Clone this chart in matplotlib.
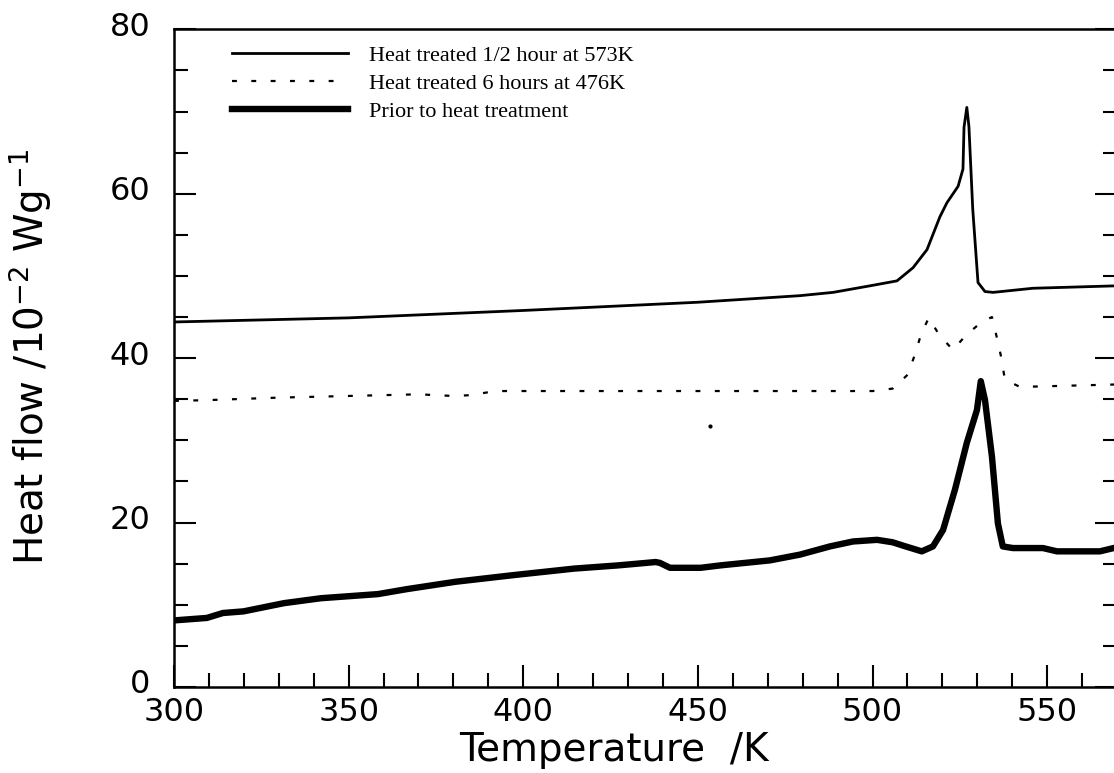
import numpy as np
import matplotlib.pyplot as plt
from matplotlib.ticker import MultipleLocator
from matplotlib.transforms import ScaledTranslation

# curve: Heat treated 1/2 hour at 573K
t_573 = [300, 350, 400, 450, 479.2, 488.7, 499.3, 507.0, 511.6, 515.6, 519.3,
         521.3, 524.5, 525.9, 526.2, 527.0, 527.6, 528.7, 530.2, 532.2, 534.5,
         545.9, 570]
q_573 = [44.4, 44.9, 45.8, 46.8, 47.6, 48.0, 48.8, 49.4, 51.0, 53.2, 57.2,
         58.9, 60.9, 63.0, 68.1, 70.5, 68.2, 58.1, 49.2, 48.1, 48.0,
         48.5, 48.8]

# Heat treated 6 hours at 476K
t_476 = [300, 310, 330, 350, 370, 380, 385, 392, 400, 450, 479.2, 500.1,
         505.8, 510.1, 512.1, 513.9, 516.1, 519.0, 523.0, 527.0, 531.3,
         534.2, 535.6, 536.8, 537.9, 542.2, 570]
q_476 = [34.8, 34.9, 35.2, 35.4, 35.6, 35.4, 35.5, 36.0, 36.0, 36.0, 36.0, 36.0,
         36.3, 38.0, 40.4, 42.9, 44.9, 42.9, 41.0, 42.9, 44.4,
         45.0, 42.5, 40.2, 37.4, 36.5, 36.8]

# Prior to heat treatment
t_prior = [300, 309.4, 314.0, 319.9, 331.5, 342.1, 358.4, 366.6, 380.6, 397.0,
           414.5, 427.4, 437.9, 439.1, 442.0, 450.8, 456.6, 470.6, 479.2,
           487.8, 494.4, 501.3, 505.8, 508.7, 514.1, 517.3, 520.2, 523.6,
           527.0, 529.9, 531.0, 532.2, 534.2, 535.9, 537.3, 540.2, 548.8,
           552.8, 565.1, 570]
q_prior = [8.1, 8.4, 9.0, 9.2, 10.2, 10.8, 11.3, 11.9, 12.8, 13.6,
           14.4, 14.8, 15.2, 15.1, 14.5, 14.5, 14.8, 15.4, 16.1,
           17.1, 17.7, 17.9, 17.6, 17.2, 16.5, 17.1, 19.1, 24.0,
           29.7, 33.7, 37.2, 34.9, 28.0, 19.9, 17.1, 16.9, 16.9,
           16.5, 16.5, 17.0]

# lone stray point below the dashed trace
stray_t = [453.4]
stray_q = [31.7]

labels = ['Heat treated 1/2 hour at 573K',
          'Heat treated 6 hours at 476K',
          'Prior to heat treatment']

fig = plt.figure(figsize=(11.14, 7.73), dpi=100)
ax = fig.add_axes([174/1114, 1 - 687/773, 943/1114, 657.7/773])

ax.plot(t_573, q_573, 'k-', lw=2.0, label=labels[0])
ax.plot(t_476, q_476, color='k', lw=1.6, dashes=(2.2, 6.5), label=labels[1])
ax.plot(t_prior, q_prior, 'k-', lw=4.6, solid_joinstyle='round', label=labels[2])
ax.plot(stray_t, stray_q, 'k.', ms=4)

ax.set_xlim(300, 570)
ax.set_ylim(0, 80)
ax.xaxis.set_major_locator(MultipleLocator(50))
ax.xaxis.set_minor_locator(MultipleLocator(10))
ax.set_yticks([0, 20, 40, 60, 80])
ax.yaxis.set_minor_locator(MultipleLocator(5))

for s in ax.spines.values():
    s.set_linewidth(1.8)

ax.tick_params(which='both', direction='in', top=False, right=True, width=1.5)
ax.tick_params(which='major', length=16)
ax.tick_params(which='minor', length=10)
ax.tick_params(axis='x', which='major', pad=7, labelsize=23)
ax.tick_params(axis='y', which='major', pad=17, labelsize=23)

# y numbers sit a little above their ticks in the original
up = ScaledTranslation(0, 4/72, fig.dpi_scale_trans)
for lbl in ax.get_yticklabels():
    lbl.set_transform(lbl.get_transform() + up)

ax.set_xlabel('Temperature  /K', fontsize=28)
ax.xaxis.set_label_coords((614 - 174) / 943, (687 - 731) / 657.7)
ax.set_ylabel('Heat flow /10$^{-2}$ Wg$^{-1}$', fontsize=28)
ax.yaxis.set_label_coords((54 - 174) / 943, 0.502)

leg = ax.legend(loc='upper left', bbox_to_anchor=(232/1114, 1 - 45/773),
                bbox_transform=fig.transFigure, frameon=False,
                prop={'family': 'Liberation Serif', 'size': 16},
                handlelength=5.2, handletextpad=0.95, labelspacing=0.35,
                borderpad=0, borderaxespad=0)

fig.savefig('out.png', dpi=100)
